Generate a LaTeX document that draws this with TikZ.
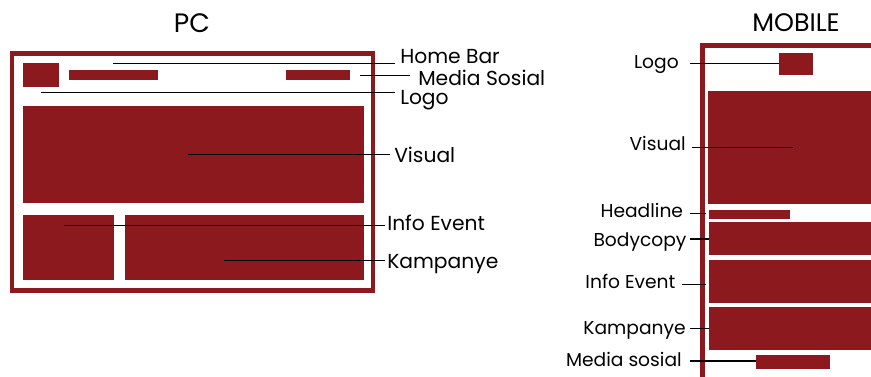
\documentclass[tikz,border=0pt]{standalone}
\usepackage{fontspec}
\setmainfont{Poppins}
\usetikzlibrary{fit}
\definecolor{wred}{RGB}{139,25,29}
\begin{document}
\begin{tikzpicture}[x=0.75pt,y=-0.75pt,
  frame/.style={draw=wred,line width=3.3pt},
  box/.style={fill=wred,inner sep=0pt,outer sep=0pt,draw=none},
  lead/.style={draw=black,line width=1.1pt},
  pclbl/.style={inner sep=0pt,font=\fontsize{15.2pt}{17pt}\selectfont},
  mlbl/.style={inner sep=0pt,font=\fontsize{14pt}{16pt}\selectfont},
  ttl/.style={inner sep=0pt,anchor=base}]
\useasboundingbox (0,0) rectangle (871,376);
% titles
\node[ttl,font=\fontsize{20pt}{22pt}\selectfont] (pct) at (192,32.3) {PC};
\node[ttl,font=\fontsize{19pt}{21pt}\selectfont] (mbt) at (796,31) {MOBILE};
% ---------- PC ----------
\draw[frame] (12.2,53.5) rectangle (373,290.5);
\node[box,fit={(23,63) (59,87)}] (pclogo) {};
\node[box,fit={(69,70) (158,80)}] (pchome) {};
\node[box,fit={(286,70) (350,80)}] (pcmedia) {};
\node[box,fit={(23,106) (364,203)}] (pcvisual) {};
\node[box,fit={(23,215) (114,280)}] (pcinfo) {};
\node[box,fit={(125,215) (364,280)}] (pckamp) {};
% labels
\node[pclbl,anchor=base west] (lhome) at (400,63.3) {Home Bar};
\node[pclbl,anchor=base west] (lmedia) at (418,85) {Media Sosial};
\node[pclbl,anchor=base west] (llogo) at (400,104) {Logo};
\node[pclbl,anchor=base west] (lvisual) at (394,162.3) {Visual};
\node[pclbl,anchor=base west] (linfo) at (387,230.7) {Info Event};
\node[pclbl,anchor=base west] (lkamp) at (387,268.7) {Kampanye};
% line ends
\coordinate (a1) at (113,63.3);  \coordinate (b1) at (395,63.3);
\coordinate (a2) at (360,75.7);  \coordinate (b2) at (410,75.7);
\coordinate (a3) at (41,92.7);   \coordinate (b3) at (395,92.7);
\coordinate (a4) at (188,154.7); \coordinate (b4) at (390,154.7);
\coordinate (a5) at (64,225.3);  \coordinate (b5) at (385,225.3);
\coordinate (a6) at (224,260.3); \coordinate (b6) at (385,260.3);
\draw[lead] (a1) -- (b1);
\draw[lead] (a2) -- (b2);
\draw[lead] (a3) -- (b3);
\draw[lead] (a4) -- (b4);
\draw[lead] (a5) -- (b5);
\draw[lead] (a6) -- (b6);
% ---------- MOBILE ----------
\begin{scope}
\clip (0,0) rectangle (871,376);
\draw[frame] (702.5,45.5) rectangle (900,400);
\node[box,fit={(779,53) (813,74.7)}] (mlogo) {};
\node[box,fit={(708,90.7) (871,204)}] (mvisual) {};
\node[box,fit={(709,210) (790,219)}] (mhead) {};
\node[box,fit={(709,222) (871,255)}] (mbody) {};
\node[box,fit={(709,260) (871,303)}] (minfo) {};
\node[box,fit={(709,307) (871,350)}] (mkamp) {};
\node[box,fit={(756,355) (830,369)}] (mmedia) {};
\end{scope}
\node[mlbl,anchor=base east] (mllogo) at (679,68.3) {Logo};
\node[mlbl,anchor=base east] (mlvisual) at (686,150.7) {Visual};
\node[mlbl,anchor=base east] (mlhead) at (683.3,217.3) {Headline};
\node[mlbl,anchor=base east] (mlbody) at (686.7,246) {Bodycopy};
\node[mlbl,anchor=base east] (mlinfo) at (675.7,288.7) {Info Event};
\node[mlbl,anchor=base east] (mlkamp) at (686,334) {Kampanye};
\node[mlbl,anchor=base east] (mlmedia) at (682,366) {Media sosial};
\coordinate (c1) at (690,63.3);   \coordinate (d1) at (779,63.3);
\coordinate (c2) at (692.3,147.7); \coordinate (d2) at (793.3,147.7);
\coordinate (c3) at (690,213.3);  \coordinate (d3) at (705.7,213.3);
\coordinate (c4) at (690,239);    \coordinate (d4) at (709,239);
\coordinate (c5) at (681.7,284.3); \coordinate (d5) at (705.7,284.3);
\coordinate (c6) at (690,328.3);  \coordinate (d6) at (709,328.3);
\coordinate (c7) at (690,361);    \coordinate (d7) at (756,361);
\draw[lead] (c1) -- (d1);
\draw[lead] (c2) -- (d2);
\draw[lead] (c3) -- (d3);
\draw[lead] (c4) -- (d4);
\draw[lead] (c5) -- (d5);
\draw[lead] (c6) -- (d6);
\draw[lead] (c7) -- (d7);
\end{tikzpicture}
\end{document}
